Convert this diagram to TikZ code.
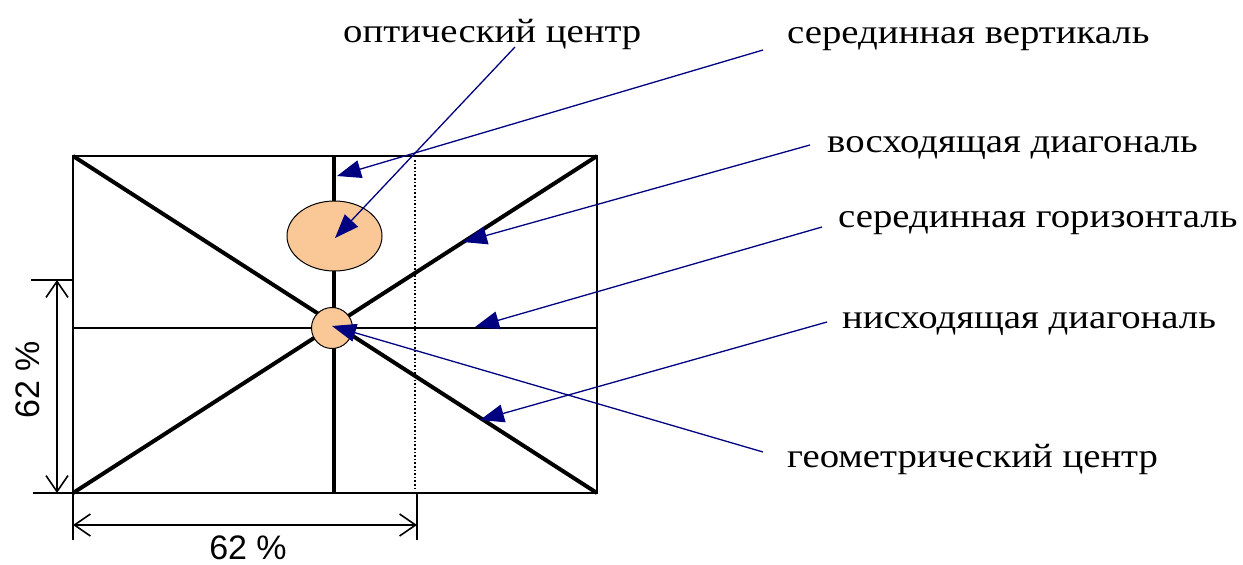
\documentclass[tikz,border=0pt]{standalone}
\usepackage{fontspec}
\setmainfont{Liberation Serif}
\newfontfamily\dimfont{Liberation Sans}
\usetikzlibrary{arrows.meta,shapes.geometric}
\definecolor{peach}{RGB}{250,200,150}
\definecolor{navyc}{RGB}{0,0,128}
\newcommand{\wide}[1]{\scalebox{1.14}[1]{#1}}
\tikzset{
  lbl/.style={anchor=base west, inner sep=0pt, font=\fontsize{34}{34}\selectfont},
  ptr/.style={navyc, line width=1.3pt, -{Triangle[length=24pt,width=18pt]}},
  thick line/.style={line width=4pt},
  thin line/.style={line width=2pt},
  dimline/.style={line width=1.6pt, {Straight Barb[length=16pt,width=22pt]}-{Straight Barb[length=16pt,width=22pt]}},
  dimtxt/.style={inner sep=0pt, font=\dimfont\fontsize{34}{34}\selectfont},
}
\begin{document}
\begin{tikzpicture}[x=1pt,y=-1pt]
\useasboundingbox (0,0) rectangle (1243,565);
\fill[white] (0,0) rectangle (1243,565);
% frame and lines
\coordinate (TL) at (73,156);
\coordinate (TR) at (597,156);
\coordinate (BL) at (73,493);
\coordinate (BR) at (597,493);
\draw[thin line] (TL) rectangle (BR);
\draw[thin line] (73,328) -- (597,328);
\draw[line width=1.6pt, dotted] (415,160) -- (415,490);
\draw[thick line] (334,156) -- (334,493);
\draw[thick line] (TL) -- (BR);
\draw[thick line] (BL) -- (TR);
% ellipse and circle
\node[draw, line width=1pt, fill=peach, ellipse, minimum width=95pt, minimum height=70pt, inner sep=0pt] (oc) at (334.5,236) {};
\node[draw, line width=1pt, fill=peach, circle, minimum size=41pt, inner sep=0pt] (gc) at (332,328) {};
% dimensions
\draw[thin line] (31,280) -- (73,280);
\draw[thin line] (33,493) -- (73,493);
\draw[dimline] (57,280) -- (57,493);
\draw[thin line] (73,493) -- (73,540);
\draw[thin line] (417,493) -- (417,540);
\draw[dimline] (73,525) -- (417,525);
\node[dimtxt, rotate=90, anchor=base] (dv) at (39,380) {62 \%};
\node[dimtxt, anchor=base] (dh) at (248,559) {62 \%};
% labels
\node[lbl] (l1) at (343,42) {\wide{оптический центр}};
\node[lbl] (l2) at (787,43) {\wide{серединная вертикаль}};
\node[lbl] (l3) at (827,152) {\wide{восходящая диагональ}};
\node[lbl] (l4) at (838,227) {\wide{серединная горизонталь}};
\node[lbl] (l5) at (842,328) {\wide{нисходящая диагональ}};
\node[lbl] (l6) at (787,467) {\wide{геометрический центр}};
% pointer start points and targets
\coordinate (s1) at (515,47);
\coordinate (s2) at (763,50);
\coordinate (s3) at (810,145);
\coordinate (s4) at (822,227);
\coordinate (s5) at (827,322);
\coordinate (s6) at (763,452);
\coordinate (t1) at (335,238);
\coordinate (t2) at (337,176);
\coordinate (t3) at (463,242);
\coordinate (t4) at (475,327);
\coordinate (t5) at (480,420);
\coordinate (t6) at (332,326);
\draw[ptr] (s1) -- (t1);
\draw[ptr] (s2) -- (t2);
\draw[ptr] (s3) -- (t3);
\draw[ptr] (s4) -- (t4);
\draw[ptr] (s5) -- (t5);
\draw[ptr] (s6) -- (t6);
\end{tikzpicture}
\end{document}
